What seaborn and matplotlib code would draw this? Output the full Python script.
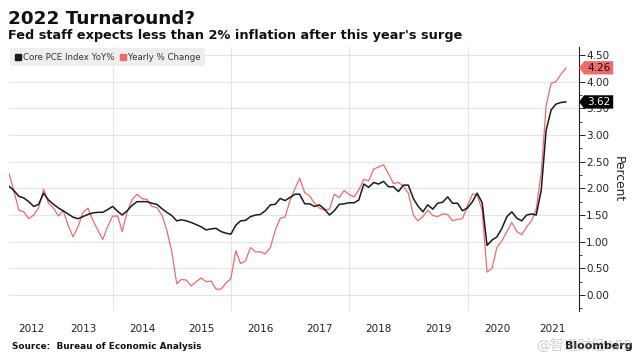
import matplotlib
matplotlib.use("Agg")
import matplotlib.pyplot as plt
from matplotlib.lines import Line2D
from matplotlib.patches import Polygon
from matplotlib.ticker import MultipleLocator, FormatStrFormatter
import numpy as np
import pandas as pd
import seaborn as sns

# monthly readings, Mar 2012 .. Aug 2021
start_month = "2012-03-31"
core_pce = [
    2.04, 1.96, 1.85, 1.82, 1.75, 1.66, 1.70, 1.91, 1.78, 1.70,
    1.63, 1.58, 1.52, 1.46, 1.43, 1.47, 1.51, 1.54, 1.55, 1.55,
    1.60, 1.66, 1.57, 1.50, 1.58, 1.68, 1.75, 1.75, 1.75, 1.72,
    1.70, 1.62, 1.55, 1.49, 1.39, 1.41, 1.39, 1.36, 1.32, 1.28,
    1.22, 1.24, 1.25, 1.19, 1.16, 1.14, 1.31, 1.39, 1.40, 1.47,
    1.50, 1.51, 1.58, 1.69, 1.70, 1.81, 1.77, 1.83, 1.89, 1.89,
    1.71, 1.71, 1.66, 1.69, 1.61, 1.50, 1.58, 1.70, 1.71, 1.73,
    1.73, 1.78, 2.08, 2.02, 2.11, 2.08, 2.13, 2.03, 2.03, 1.94,
    2.06, 2.06, 1.81, 1.67, 1.56, 1.69, 1.61, 1.72, 1.74, 1.84,
    1.72, 1.72, 1.58, 1.63, 1.75, 1.91, 1.73, 0.93, 1.03, 1.09,
    1.25, 1.47, 1.56, 1.44, 1.39, 1.50, 1.52, 1.50, 1.97, 3.09,
    3.47, 3.58, 3.61, 3.62,
]
yearly_change = [
    2.28, 1.95, 1.59, 1.56, 1.43, 1.50, 1.64, 1.98, 1.72, 1.63,
    1.48, 1.59, 1.31, 1.09, 1.28, 1.54, 1.63, 1.40, 1.22, 1.04,
    1.28, 1.48, 1.48, 1.19, 1.56, 1.79, 1.89, 1.81, 1.79, 1.66,
    1.64, 1.50, 1.22, 0.82, 0.21, 0.29, 0.28, 0.17, 0.25, 0.32,
    0.25, 0.26, 0.11, 0.11, 0.22, 0.31, 0.83, 0.59, 0.64, 0.89,
    0.81, 0.81, 0.77, 0.89, 1.21, 1.44, 1.46, 1.78, 2.00, 2.19,
    1.92, 1.86, 1.72, 1.63, 1.59, 1.61, 1.89, 1.83, 1.96, 1.88,
    1.84, 1.97, 2.17, 2.14, 2.36, 2.40, 2.44, 2.27, 2.09, 2.11,
    2.04, 1.91, 1.50, 1.39, 1.47, 1.59, 1.49, 1.47, 1.52, 1.51,
    1.39, 1.42, 1.43, 1.67, 1.89, 1.88, 1.59, 0.43, 0.50, 0.89,
    1.02, 1.19, 1.36, 1.19, 1.13, 1.28, 1.40, 1.61, 2.30, 3.55,
    3.97, 4.00, 4.14, 4.26,
]
series_names = ["Core PCE Index YoY%", "Yearly % Change"]
series_colors = ["#1a1a1a", "#ee6b6e"]
year_labels = [str(y) for y in range(2012, 2022)]

dates = pd.date_range(start_month, periods=len(core_pce), freq="ME")
df = pd.DataFrame({"date": dates, series_names[0]: core_pce, series_names[1]: yearly_change})
long_df = df.melt(id_vars="date", var_name="series", value_name="value")

sns.set_theme(style="white")
plt.rcParams["font.family"] = ["DejaVu Sans", "Noto Sans CJK SC"]

fig = plt.figure(figsize=(6.38, 3.63), dpi=100)
ax = fig.add_axes([9 / 638, 1 - 311 / 363, 570 / 638, 264 / 363])

sns.lineplot(data=long_df, x="date", y="value", hue="series",
             palette=dict(zip(series_names, series_colors)),
             hue_order=series_names[::-1], linewidth=1.0, legend=False, ax=ax)
for line, c in zip(ax.lines, series_colors[::-1]):
    line.set_linewidth(1.1 if c == "#1a1a1a" else 0.9)

x_left = pd.Timestamp(start_month)
x_right = pd.Timestamp("2021-11-19")
ax.set_xlim(x_left, x_right)
ax.set_ylim(-0.30, 4.65)

# gridlines
ax.set_yticks(np.arange(0, 4.51, 0.5))
ax.yaxis.set_minor_locator(MultipleLocator(0.25))
ax.yaxis.set_major_formatter(FormatStrFormatter("%.2f"))
ax.yaxis.tick_right()
ax.yaxis.set_label_position("right")
ax.grid(axis="y", color="#e4e4e4", linewidth=0.8)

ax.set_xticks([pd.Timestamp(f"{y}-01-01") for y in (2014, 2016, 2018, 2020)])
ax.xaxis.set_major_formatter(plt.NullFormatter())
ax.grid(axis="x", color="#e4e4e4", linewidth=0.8)
ax.tick_params(axis="x", which="major", length=0)

# year labels centred on the visible part of each year
label_pos = []
for y in year_labels:
    a = max(pd.Timestamp(f"{y}-01-01"), x_left)
    b = min(pd.Timestamp(f"{int(y) + 1}-01-01"), x_right)
    label_pos.append(a + (b - a) / 2)
ax.set_xticks(label_pos, minor=True)
ax.set_xticklabels(year_labels, minor=True)
ax.tick_params(axis="x", which="minor", length=0, labelsize=7.5, pad=9, colors="#222222")

ax.tick_params(axis="y", which="major", direction="out", length=4, width=0.7,
               labelsize=7.5, pad=1, colors="#222222", right=True, left=False)
ax.tick_params(axis="y", which="minor", direction="out", length=2, width=0.6,
               right=True, left=False, colors="#222222")
ax.set_ylabel("Percent", rotation=270, fontsize=8.8, labelpad=11, color="#222222")
ax.set_xlabel("")

for side in ("top", "left", "bottom"):
    ax.spines[side].set_visible(False)
ax.spines["right"].set_color("#222222")
ax.spines["right"].set_linewidth(0.8)

# last value tags
tag_h = 0.125
for val, face, txt in [(yearly_change[-1], "#ee6b6e", "#111111"), (core_pce[-1], "#000000", "white")]:
    pts = [(1.0, val), (1.009, val + tag_h), (1.06, val + tag_h),
           (1.06, val - tag_h), (1.009, val - tag_h)]
    tr = ax.get_yaxis_transform()
    ax.add_patch(Polygon(pts, closed=True, transform=tr, facecolor=face,
                         edgecolor="none", clip_on=False, zorder=10))
    ax.text(1.035, val, f"{val:.2f}", transform=tr, ha="center", va="center",
            fontsize=7.5, color=txt, zorder=11, clip_on=False)

# legend
handles = [Line2D([], [], marker="s", linestyle="none", color=c, markersize=5)
           for c in series_colors]
leg = ax.legend(handles, series_names, loc="upper left", bbox_to_anchor=(0.0, 1.0),
                ncol=2, frameon=True, fancybox=False, facecolor="#eeeeee",
                edgecolor="none", fontsize=6.2, handlelength=0.7, handletextpad=0.3,
                columnspacing=0.6, borderpad=0.5, borderaxespad=0.15)
leg.get_frame().set_alpha(1)
for t in leg.get_texts():
    t.set_color("#333333")

fig.text(8 / 638, 1 - 24 / 363, "2022 Turnaround?", fontsize=13.2, fontweight="bold",
         va="baseline", ha="left", color="#111111")
fig.text(8 / 638, 1 - 38.5 / 363, "Fed staff expects less than 2% inflation after this year's surge",
         fontsize=9.3, fontweight="bold", va="baseline", ha="left", color="#111111")
fig.text(12 / 638, 1 - 349 / 363, "Source:  Bureau of Economic Analysis", fontsize=6.4,
         fontweight="bold", va="baseline", ha="left", color="#111111")
fig.text(633 / 638, 1 - 349 / 363, "Bloomberg", fontsize=8, fontweight="bold",
         va="baseline", ha="right", color="#111111")
fig.text(632 / 638, 1 - 350 / 363, "@智通财经APP", fontsize=10, va="baseline", ha="right",
         color="#999999", alpha=0.45)

fig.savefig("out.png", dpi=100)
